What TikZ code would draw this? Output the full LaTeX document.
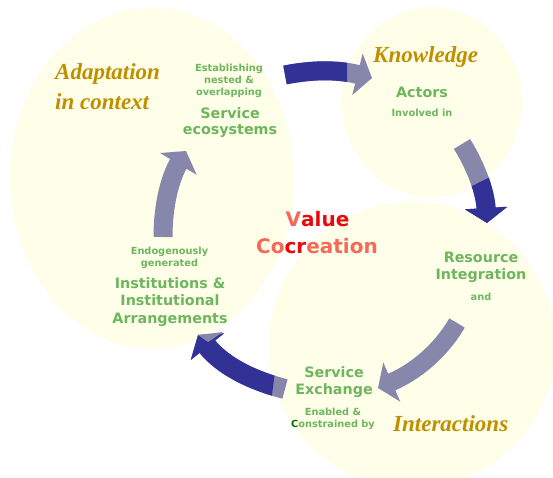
\documentclass[tikz,border=0pt]{standalone}
\usepackage{fontspec}
\usetikzlibrary{arrows.meta}
\newfontfamily\mygreenfont{DejaVu Sans}
\newfontfamily\myitfont{Liberation Serif}
\definecolor{bubblecol}{RGB}{254,254,233}
\definecolor{gcol}{RGB}{110,182,94}
\definecolor{dgcol}{RGB}{0,110,0}
\definecolor{goldcol}{RGB}{191,143,0}
\definecolor{arrdark}{RGB}{50,50,150}
\definecolor{arrgray}{RGB}{135,135,172}
\definecolor{vred}{RGB}{232,10,10}
\definecolor{vsalmon}{RGB}{244,105,88}
\tikzset{
  bubble/.style={fill=bubblecol, draw=none},
  gsmall/.style={text=gcol, inner sep=0pt, anchor=base, font=\fontsize{9.8}{12}\selectfont\mygreenfont\bfseries},
  gbig/.style={text=gcol, inner sep=0pt, anchor=base, font=\fontsize{14.3}{17}\selectfont\mygreenfont\bfseries},
  valtxt/.style={inner sep=0pt, anchor=base, font=\fontsize{20}{24}\selectfont\mygreenfont\bfseries},
  ital/.style={text=goldcol, inner sep=0pt, anchor=base west, font=\fontsize{23}{28}\selectfont\myitfont\bfseries\itshape},
  fatarrow/.style={line width=19pt, -{Triangle[width=42pt,length=15pt]}},
}
\begin{document}
\begin{tikzpicture}[x=1pt,y=-1pt]
\useasboundingbox (0,0) rectangle (553,478);
\fill[white] (0,0) rectangle (553,478);
% bubbles
\fill[bubble] (152,178) ellipse [x radius=142, y radius=170];
\fill[bubble] (432,102) ellipse [x radius=90, y radius=95];
\fill[bubble] (412,345) circle [radius=143];

% arrow end points
\coordinate (a1s) at (285,75);
\coordinate (a1e) at (372,78);
\coordinate (a2s) at (462,144);
\coordinate (a2e) at (487,223);
\coordinate (a3s) at (457,323);
\coordinate (a3e) at (378,388);
\coordinate (a4s) at (285,389);
\coordinate (a4e) at (198,335);
\coordinate (a5s) at (163,237);
\coordinate (a5e) at (186,151);

% arrow 1: ecosystems -> actors
\draw[fatarrow, color=arrgray] (a1s) .. controls (315,69) and (340,70) .. (a1e);
\begin{scope}
  \clip (0,0) rectangle (347,200);
  \draw[fatarrow, color=arrdark] (a1s) .. controls (315,69) and (340,70) .. (a1e);
\end{scope}
% arrow 2: actors -> resource integration
\draw[fatarrow, color=arrgray] (a2s) .. controls (475,165) and (485,190) .. (a2e);
\begin{scope}
  \clip (430,207) -- (530,157) -- (530,260) -- (430,260) -- cycle;
  \draw[fatarrow, color=arrdark] (a2s) .. controls (475,165) and (485,190) .. (a2e);
\end{scope}
% arrow 3: resource integration -> service exchange
\draw[fatarrow, line width=18pt, color=arrgray] (a3s) .. controls (440,352) and (415,372) .. (a3e);
% arrow 4: service exchange -> institutions
\draw[fatarrow, line width=20pt, color=arrgray] (a4s) .. controls (250,380) and (222,365) .. (a4e);
\begin{scope}
  \clip (0,0) -- (277,0) -- (275,372) -- (270,410) -- (0,410) -- cycle;
  \draw[fatarrow, line width=20pt, color=arrdark] (a4s) .. controls (250,380) and (222,365) .. (a4e);
\end{scope}
\fill[arrgray] (198,335) -- (223,332) -- (208,342) -- cycle;
% arrow 5: institutions -> ecosystems
\draw[fatarrow, color=arrgray] (a5s) .. controls (163,205) and (170,178) .. (a5e);

% italic labels
\node[ital] (adapt1) at (55,80) {Adaptation};
\node[ital] (adapt2) at (55,110) {in context};
\node[ital] (know) at (373,63) {Knowledge};
\node[ital] (inter) at (393,431) {Interactions};

% service ecosystems
\node[gsmall] (est1) at (229,72) {Establishing};
\node[gsmall] (est2) at (229,84) {nested \&};
\node[gsmall] (est3) at (229,96) {overlapping};
\node[gbig] (eco1) at (230,119) {Service};
\node[gbig] (eco2) at (230,135) {ecosystems};
% actors
\node[gbig] (act) at (422,98) {Actors};
\node[gsmall] (inv) at (422,117) {Involved in};
% resource integration
\node[gbig] (res1) at (481,262) {Resource};
\node[gbig] (res2) at (481,279) {Integration};
\node[gsmall] (and) at (481,300) {and};
% service exchange
\node[gbig] (ex1) at (334,377) {Service};
\node[gbig] (ex2) at (334,394) {Exchange};
\node[gsmall] (en1) at (333,415) {Enabled \&};
\node[gsmall] (en2) at (333,427) {\textcolor{dgcol}{C}onstrained by};
% institutions
\node[gsmall] (endo1) at (169.5,254) {Endogenously};
\node[gsmall] (endo2) at (169.5,266) {generated};
\node[gbig] (ins1) at (170,288) {Institutions \&};
\node[gbig] (ins2) at (170,305.5) {Institutional};
\node[gbig] (ins3) at (170,323) {Arrangements};
% value cocreation
\node[valtxt] (val1) at (317.5,226) {\textcolor{vsalmon}{V}\textcolor{vred}{alue}};
\node[valtxt] (val2) at (317,253) {\textcolor{vsalmon}{Co}\textcolor{vred}{cr}\textcolor{vsalmon}{eation}};
\end{tikzpicture}
\end{document}
